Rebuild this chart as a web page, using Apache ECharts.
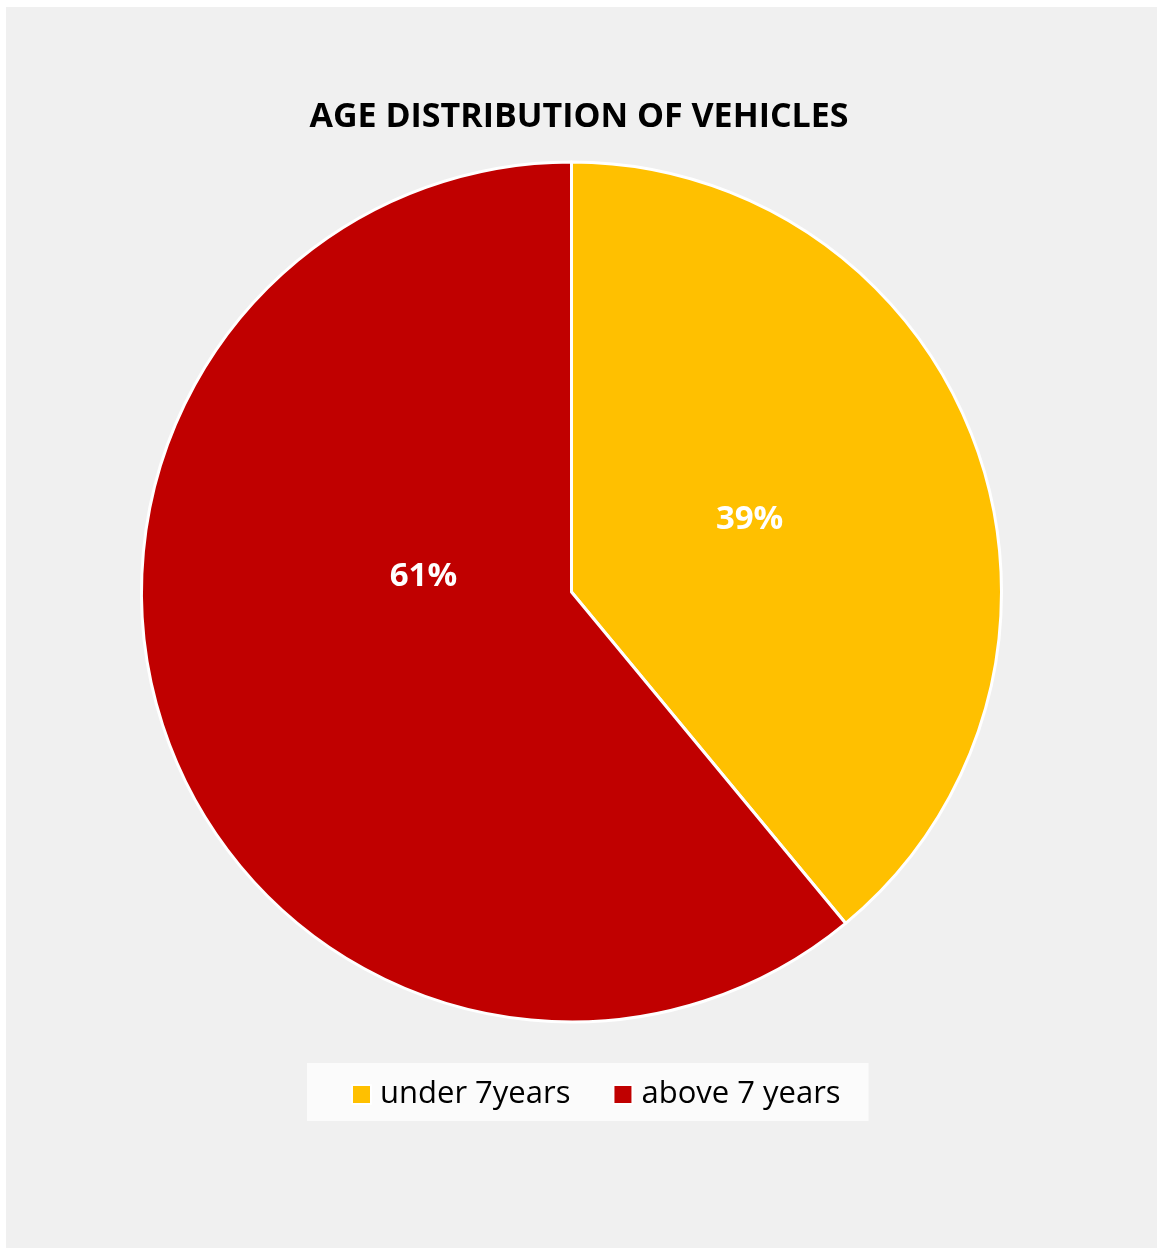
<!DOCTYPE html>
<html>
<head>
<meta charset="utf-8">
<style>
  html, body { margin: 0; padding: 0; background: #ffffff; }
  #chart { position: absolute; left: 0; top: 0; width: 1158px; height: 1249px; }
</style>
<script src="https://cdn.jsdelivr.net/npm/echarts@6/dist/echarts.min.js"></script>
</head>
<body>
<div id="chart"></div>
<script>
// Share of registered vehicles by age group (percent)
const categories = ['under 7years', 'above 7 years'];
const shares = [39, 61];
const sliceColors = ['#FFC000', '#C00000'];
// Hand-placed label nudges for each slice
const labelOffsets = [[-27, 1], [57, -89]];

const FONT = '"Open Sans", "Noto Sans", sans-serif';

const chart = echarts.init(document.getElementById('chart'), null, { renderer: 'canvas' });

chart.setOption({
  backgroundColor: '#ffffff',
  graphic: [{
    type: 'rect',
    z: -10,
    silent: true,
    shape: { x: 6, y: 7, width: 1151, height: 1241 },
    style: { fill: '#F0F0F0' }
  }],
  title: {
    text: 'AGE DISTRIBUTION OF VEHICLES',
    left: 'center',
    top: 95,
    textStyle: { fontFamily: FONT, fontWeight: 'bold', fontSize: 34, color: '#000000' }
  },
  legend: {
    data: categories,
    left: 307,
    top: 1063,
    orient: 'horizontal',
    backgroundColor: '#FBFBFB',
    padding: [16, 28, 11, 44],
    itemWidth: 19,
    itemHeight: 19,
    itemGap: 42,
    icon: 'rect',
    textStyle: { fontFamily: FONT, fontSize: 31, lineHeight: 31, color: '#000000', padding: [0, 0, 0, 4] }
  },
  series: [{
    type: 'pie',
    center: [571.5, 592],
    radius: [0, 430],
    startAngle: 90,
    clockwise: true,
    avoidLabelOverlap: false,
    itemStyle: { borderColor: '#ffffff', borderWidth: 3 },
    emphasis: { disabled: true },
    labelLine: { show: false },
    label: {
      show: true,
      position: 'inside',
      formatter: '{c}%',
      fontFamily: FONT,
      fontWeight: 'bold',
      fontSize: 33,
      color: '#ffffff'
    },
    data: categories.map((name, i) => ({
      name: name,
      value: shares[i],
      itemStyle: { color: sliceColors[i] },
      label: { offset: labelOffsets[i] }
    }))
  }]
});
</script>
</body>
</html>
